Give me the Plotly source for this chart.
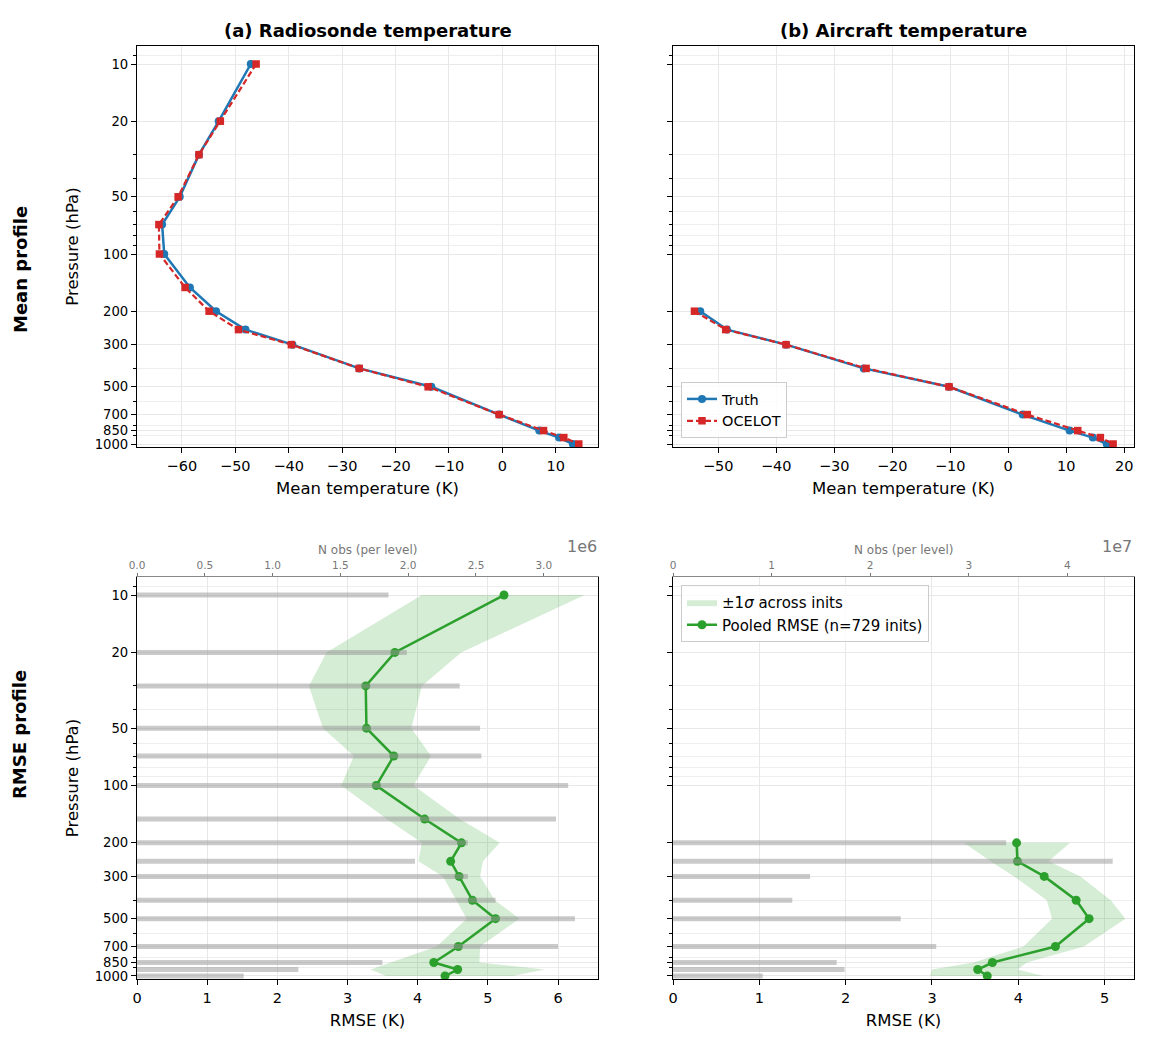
import math
import plotly.graph_objects as go

# pressure levels (hPa)
levels_raob = [10, 20, 30, 50, 70, 100, 150, 200, 250, 300, 400, 500, 700, 850, 925, 1000]
levels_acft = [200, 250, 300, 400, 500, 700, 850, 925, 1000]

# mean temperature profiles (K, shown as deg offset)
raob_truth = [-47.1, -53.1, -56.8, -60.4, -63.7, -63.3, -58.5, -53.6, -48.1, -39.3, -26.8, -13.3, -0.6, 6.9, 10.6, 13.2]
raob_ocelot = [-46.1, -52.8, -56.8, -60.7, -64.3, -64.2, -59.4, -54.9, -49.4, -39.5, -26.8, -13.9, -0.6, 7.7, 11.5, 14.3]
acft_truth = [-53.1, -48.5, -38.3, -24.9, -10.2, 2.5, 10.6, 14.6, 17.0]
acft_ocelot = [-54.1, -48.7, -38.3, -24.5, -10.2, 3.3, 12.0, 15.9, 18.1]

# pooled RMSE and +-1 sigma band
raob_rmse = [5.23, 3.675, 3.26, 3.27, 3.66, 3.41, 4.10, 4.625, 4.47, 4.59, 4.78, 5.11, 4.58, 4.23, 4.57, 4.39]
raob_lo = [4.06, 2.70, 2.45, 2.65, 3.09, 2.91, 3.56, 4.06, 4.01, 4.36, 4.55, 4.70, 4.27, 3.60, 3.33, 3.55]
raob_hi = [6.38, 4.62, 4.06, 3.91, 4.19, 3.94, 4.60, 5.17, 4.93, 4.89, 5.10, 5.45, 4.89, 4.88, 5.81, 5.35]
acft_rmse = [3.98, 3.99, 4.30, 4.67, 4.82, 4.43, 3.70, 3.53, 3.64]
acft_lo = [3.37, 3.68, 3.95, 4.33, 4.39, 4.06, 3.48, 3.00, 2.98]
acft_hi = [4.60, 4.35, 4.72, 5.07, 5.24, 4.76, 4.10, 3.99, 4.29]

# observation counts per level
raob_nobs = [1.855e6, 1.99e6, 2.38e6, 2.53e6, 2.54e6, 3.18e6, 3.09e6, 2.44e6, 2.05e6, 2.44e6, 2.645e6, 3.23e6, 3.105e6, 1.81e6, 1.19e6, 0.787e6]
acft_nobs = [3.38e7, 4.46e7, 1.39e7, 1.21e7, 2.31e7, 2.67e7, 1.66e7, 1.74e7, 0.91e7]

major_p = [10, 20, 50, 100, 200, 300, 500, 700, 850, 1000]
minor_p = [9, 30, 40, 60, 70, 80, 90, 400, 600, 800, 900]

BLUE = '#1f77b4'
RED = '#d62728'
GREEN = '#2ca02c'
BAND = 'rgba(44,160,44,0.2)'
BARC = 'rgba(150,150,150,0.5)'
GRID = '#e8e8e8'
GREY = '#777777'

# the page body adds an 8px margin, so lay out in window pixels minus 8
OFF = 8
W, H = 1151 - 2 * OFF, 1042 - 2 * OFF


def px(x):
    return (x - OFF) / W


def py(y):
    return (H - (y - OFF)) / H


XL = [px(137), px(598)]
XR = [px(673), px(1134)]
YT = [py(447), py(46)]
YB = [py(979), py(577)]

fig = go.Figure()


def profile(x, y, xa, ya, show, legend='legend'):
    fig.add_trace(go.Scatter(x=x[0], y=y, xaxis=xa, yaxis=ya, mode='lines+markers', name='Truth',
                             line=dict(color=BLUE, width=2.5), marker=dict(symbol='circle', size=8),
                             showlegend=show, legend=legend))
    fig.add_trace(go.Scatter(x=x[1], y=y, xaxis=xa, yaxis=ya, mode='lines+markers', name='OCELOT',
                             line=dict(color=RED, width=2.2, dash='6px,3px'),
                             marker=dict(symbol='square', size=7.5),
                             showlegend=show, legend=legend))


def rmse(levels, r, lo, hi, nobs, xa, xn, ya, show):
    fig.add_trace(go.Scatter(x=lo + hi[::-1], y=levels + levels[::-1], xaxis=xa, yaxis=ya,
                             fill='toself', fillcolor=BAND, mode='lines', line=dict(width=0),
                             name='±1<i>σ</i> across inits', showlegend=show, legend='legend2'))
    fig.add_trace(go.Scatter(x=r, y=levels, xaxis=xa, yaxis=ya, mode='lines+markers',
                             line=dict(color=GREEN, width=2.5), marker=dict(size=9),
                             name='Pooled RMSE (n=729 inits)', showlegend=show, legend='legend2'))
    bx, by = [], []
    for p, n in zip(levels, nobs):
        bx += [0, n, None]
        by += [p, p, None]
    fig.add_trace(go.Scatter(x=bx, y=by, xaxis=xn, yaxis=ya, mode='lines',
                             line=dict(color=BARC, width=5), showlegend=False, hoverinfo='skip'))


profile((raob_truth, raob_ocelot), levels_raob, 'x', 'y', False)
profile((acft_truth, acft_ocelot), levels_acft, 'x2', 'y2', True)
rmse(levels_raob, raob_rmse, raob_lo, raob_hi, raob_nobs, 'x3', 'x5', 'y3', False)
rmse(levels_acft, acft_rmse, acft_lo, acft_hi, acft_nobs, 'x4', 'x6', 'y4', True)

tickfont = dict(size=14.5, color='black')
titlefont = dict(size=16.5, color='black')


def yax(domain, anchor, labels, title=None):
    d = dict(domain=domain, anchor=anchor, type='log', automargin=False,
             range=[math.log10(1037), math.log10(8.04)],
             tickvals=major_p, ticktext=[str(p) for p in major_p],
             showticklabels=labels, ticks='outside', ticklen=5, tickcolor='black',
             showline=True, linecolor='black', linewidth=1.2, mirror=True,
             showgrid=True, gridcolor=GRID, gridwidth=0.8, zeroline=False,
             minor=dict(tickvals=minor_p, ticks='outside', ticklen=3, tickcolor='black',
                        showgrid=True, gridcolor='#eeeeee', gridwidth=0.7),
             tickfont=dict(size=13.2, color='black'))
    if title:
        d['title'] = dict(text=title, font=titlefont, standoff=11)
    return d


def xax(domain, anchor, rng, dtick, title, mirror=True):
    return dict(domain=domain, anchor=anchor, range=rng, dtick=dtick, tick0=0, automargin=False,
                ticks='outside', ticklen=5, tickcolor='black',
                showline=True, linecolor='black', linewidth=1.2, mirror=mirror,
                showgrid=True, gridcolor=GRID, gridwidth=0.8, zeroline=False,
                tickfont=tickfont, title=dict(text=title, font=titlefont, standoff=9))


def nax(over, anchor, rng, vals, text):
    return dict(overlaying=over, anchor=anchor, side='top', range=rng, automargin=False,
                tickvals=vals, ticktext=text, ticks='outside', ticklen=3, tickcolor=GREY,
                showline=True, linecolor='#888888', linewidth=1.2, showgrid=False, zeroline=False,
                tickfont=dict(size=10.5, color=GREY))


fig.update_layout(
    width=W, height=H, margin=dict(l=0, r=0, t=0, b=0, autoexpand=False),
    plot_bgcolor='white', paper_bgcolor='white',
    font=dict(family='DejaVu Sans', color='black'),
    xaxis=xax(XL, 'y', [-68.4, 17.9], 10, 'Mean temperature (K)'),
    xaxis2=xax(XR, 'y2', [-57.8, 21.7], 10, 'Mean temperature (K)'),
    xaxis3=xax(XL, 'y3', [0, 6.57], 1, 'RMSE (K)', mirror=False),
    xaxis4=xax(XR, 'y4', [0, 5.34], 1, 'RMSE (K)', mirror=False),
    xaxis5=nax('x3', 'y3', [0, 3.4e6], [0, 0.5e6, 1e6, 1.5e6, 2e6, 2.5e6, 3e6],
               ['0.0', '0.5', '1.0', '1.5', '2.0', '2.5', '3.0']),
    xaxis6=nax('x4', 'y4', [0, 4.676e7], [0, 1e7, 2e7, 3e7, 4e7], ['0', '1', '2', '3', '4']),
    yaxis=yax(YT, 'x', True, 'Pressure (hPa)'),
    yaxis2=yax(YT, 'x2', False),
    yaxis3=yax(YB, 'x3', True, 'Pressure (hPa)'),
    yaxis4=yax(YB, 'x4', False),
    legend=dict(x=px(681), y=py(438), xanchor='left', yanchor='bottom',
                bordercolor='#cccccc', borderwidth=1, bgcolor='rgba(255,255,255,0.8)',
                font=dict(size=14.5)),
    legend2=dict(x=px(681), y=py(585), xanchor='left', yanchor='top',
                 bordercolor='#cccccc', borderwidth=1, bgcolor='rgba(255,255,255,0.8)',
                 font=dict(size=15)),
)

ann = [
    dict(text='<b>(a) Radiosonde temperature</b>', x=sum(XL) / 2, y=py(30), font=dict(size=18)),
    dict(text='<b>(b) Aircraft temperature</b>', x=sum(XR) / 2, y=py(30), font=dict(size=18)),
    dict(text='<b>Mean profile</b>', x=px(20), y=py(270), textangle=-90, font=dict(size=18)),
    dict(text='<b>RMSE profile</b>', x=px(20), y=py(735), textangle=-90, font=dict(size=18)),
    dict(text='N obs (per level)', x=sum(XL) / 2, y=py(550), font=dict(size=12, color=GREY)),
    dict(text='N obs (per level)', x=sum(XR) / 2, y=py(550), font=dict(size=12, color=GREY)),
    dict(text='1e6', x=px(599), y=py(546), xanchor='right', font=dict(size=16, color=GREY)),
    dict(text='1e7', x=px(1134), y=py(546), xanchor='right', font=dict(size=16, color=GREY)),
]
for a in ann:
    a.setdefault('xanchor', 'center')
    fig.add_annotation(xref='paper', yref='paper', yanchor='middle', showarrow=False, **a)

fig.write_html('out.html')
